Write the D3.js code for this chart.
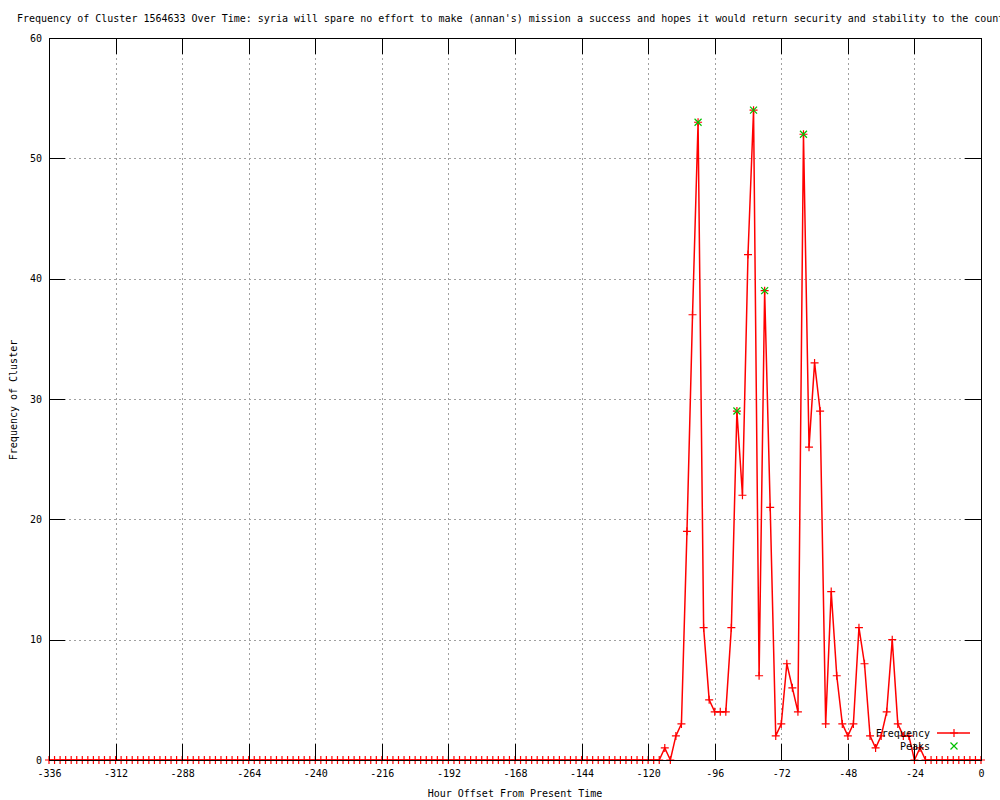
<!DOCTYPE html>
<html>
<head>
<meta charset="utf-8">
<script src="https://cdn.jsdelivr.net/npm/d3@7/dist/d3.min.js"></script>
<style>
  body { margin: 0; background: #fff; }
  svg text { font-family: "DejaVu Sans Mono", monospace; font-size: 10px; fill: #000; }
</style>
</head>
<body>
<svg id="chart" width="1000" height="800"></svg>
<script>
const title = "Frequency of Cluster 1564633 Over Time: syria will spare no effort to make (annan's) mission a success and hopes it would return security and stability to the country";

// hours every 2h from -336 to 0
const hours = d3.range(-336, 1, 2);
const frequency = [
  0,0,0,0,0,0,0,0,0,0, 0,0,0,0,0,0,0,0,0,0,
  0,0,0,0,0,0,0,0,0,0, 0,0,0,0,0,0,0,0,0,0,
  0,0,0,0,0,0,0,0,0,0, 0,0,0,0,0,0,0,0,0,0,
  0,0,0,0,0,0,0,0,0,0, 0,0,0,0,0,0,0,0,0,0,
  0,0,0,0,0,0,0,0,0,0, 0,0,0,0,0,0,0,0,0,0,
  0,0,0,0,0,0,0,0,0,0, 0,
  1,0,2,3,19,37,53,11,5,4,
  4,4,11,29,22,42,54,7,39,21,
  2,3,8,6,4,52,26,33,29,3,
  14,7,3,2,3,11,8,2,1,2,
  4,10,3,2,2,0,1,0,
  0,0,0,0,0,0,0,0,0,0
];
const peakHours = [-102, -88, -82, -78, -64];
const peakValues = [53, 29, 54, 39, 52];
const xTicks = [-336, -312, -288, -264, -240, -216, -192, -168, -144, -120, -96, -72, -48, -24, 0];
const yTicks = [0, 10, 20, 30, 40, 50, 60];

const data = hours.map((h, i) => ({ h, v: frequency[i] }));
const peaks = peakHours.map((h, i) => ({ h, v: peakValues[i] }));

const pLeft = 49, pRight = 981, pTop = 38, pBottom = 760;
const svg = d3.select("#chart");

const x = d3.scaleLinear().domain([-336, 0]).range([pLeft, pRight]);
const y = d3.scaleLinear().domain([0, 60]).range([pBottom, pTop]);

// grid
const grid = svg.append("g").attr("stroke", "#a0a0a0").attr("stroke-dasharray", "2,3").attr("shape-rendering", "crispEdges");
grid.selectAll(".gx").data(xTicks.slice(1, -1)).join("line")
  .attr("x1", d => Math.round(x(d)) + 0.5).attr("x2", d => Math.round(x(d)) + 0.5)
  .attr("y1", pTop).attr("y2", pBottom);
grid.selectAll(".gy").data(yTicks.slice(1, -1)).join("line")
  .attr("y1", d => Math.round(y(d)) + 0.5).attr("y2", d => Math.round(y(d)) + 0.5)
  .attr("x1", pLeft).attr("x2", pRight);

// frequency line
const line = d3.line().x(d => x(d.h)).y(d => y(d.v));
svg.append("path").datum(data)
  .attr("fill", "none").attr("stroke", "#ff0000").attr("stroke-width", 1.5)
  .attr("d", line);

const plus = s => `M${-s},0H${s}M0,${-s}V${s}`;
const cross = s => `M${-s},${-s}L${s},${s}M${-s},${s}L${s},${-s}`;

svg.append("g").selectAll("path").data(data).join("path")
  .attr("transform", d => `translate(${x(d.h)},${y(d.v)})`)
  .attr("d", plus(4)).attr("stroke", "#ff0000").attr("stroke-width", 1.2).attr("fill", "none");

svg.append("g").selectAll("path").data(peaks).join("path")
  .attr("transform", d => `translate(${x(d.h)},${y(d.v)})`)
  .attr("d", cross(3.5)).attr("stroke", "#00c000").attr("stroke-width", 1.2).attr("fill", "none");

// axes (ticks inward, gnuplot-like)
const fmt = d => String(d);
const axB = svg.append("g").attr("transform", `translate(0,${pBottom})`)
  .call(d3.axisBottom(x).tickValues(xTicks).tickFormat(fmt).tickSizeInner(-16).tickSizeOuter(0).tickPadding(10));
const axT = svg.append("g").attr("transform", `translate(0,${pTop})`)
  .call(d3.axisTop(x).tickValues(xTicks).tickFormat("").tickSizeInner(-16).tickSizeOuter(0));
const axL = svg.append("g").attr("transform", `translate(${pLeft},0)`)
  .call(d3.axisLeft(y).tickValues(yTicks).tickFormat(fmt).tickSizeInner(-16).tickSizeOuter(0).tickPadding(7));
const axR = svg.append("g").attr("transform", `translate(${pRight},0)`)
  .call(d3.axisRight(y).tickValues(yTicks).tickFormat("").tickSizeInner(-16).tickSizeOuter(0));
[axB, axT, axL, axR].forEach(a => {
  a.select(".domain").remove();
  a.selectAll("line").attr("stroke", "#000").attr("shape-rendering", "crispEdges");
  a.selectAll("text").attr("font-family", "DejaVu Sans Mono").attr("font-size", 10).attr("fill", "#000");
});

svg.append("rect").attr("x", pLeft + 0.5).attr("y", pTop + 0.5)
  .attr("width", pRight - pLeft).attr("height", pBottom - pTop)
  .attr("fill", "none").attr("stroke", "#000").attr("shape-rendering", "crispEdges");

// titles
svg.append("text").attr("x", 17).attr("y", 22).text(title);
svg.append("text").attr("x", (pLeft + pRight) / 2).attr("y", 797).attr("text-anchor", "middle")
  .text("Hour Offset From Present Time");
svg.append("text").attr("transform", "translate(17,400) rotate(-90)").attr("text-anchor", "middle")
  .text("Frequency of Cluster");

// legend
const lg = svg.append("g");
lg.append("text").attr("x", 930).attr("y", 737).attr("text-anchor", "end").text("Frequency");
lg.append("line").attr("x1", 937).attr("x2", 970).attr("y1", 733).attr("y2", 733)
  .attr("stroke", "#ff0000").attr("stroke-width", 1.5);
lg.append("path").attr("transform", "translate(954,733)").attr("d", plus(4))
  .attr("stroke", "#ff0000").attr("stroke-width", 1.2);
lg.append("text").attr("x", 930).attr("y", 750).attr("text-anchor", "end").text("Peaks");
lg.append("path").attr("transform", "translate(954,746)").attr("d", cross(3.5))
  .attr("stroke", "#00c000").attr("stroke-width", 1.2);
</script>
</body>
</html>
